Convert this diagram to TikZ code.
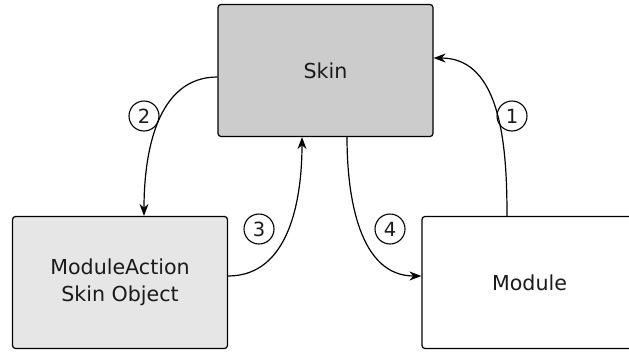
\documentclass[tikz,border=0pt]{standalone}
\usepackage{fontspec}
\setmainfont{DejaVu Sans}
\usetikzlibrary{arrows.meta}
\definecolor{skinfill}{HTML}{CCCCCC}
\definecolor{mafill}{HTML}{E6E6E6}
\definecolor{txt}{HTML}{1A1A1A}
\begin{document}
\begin{tikzpicture}[x=1pt,y=-1pt,
  box/.style={draw=black,line width=1.2pt,rounded corners=3pt,inner sep=0pt,
    minimum width=215pt,minimum height=132pt,align=center,text=txt,
    font=\fontsize{20.6}{27}\selectfont},
  conn/.style={line width=1.2pt,-{Stealth[length=12pt,width=9pt]}},
  num/.style={draw=black,line width=1.1pt,circle,inner sep=0pt,minimum size=30pt,
    text=txt,font=\fontsize{19.5}{21}\selectfont}]
\useasboundingbox (0,0) rectangle (629,351);
\node[box,fill=skinfill] (skin) at (325.5,70.5) {Skin};
\node[box,fill=mafill] (ma) at (120,282.5) {ModuleAction\\Skin Object};
\node[box,fill=white] (mod) at (529.5,282.5) {Module};
\draw[conn] ([xshift=-22.5pt]mod.north) to[out=90,in=0] ([yshift=12.5pt]skin.east);
\draw[conn] ([yshift=-6.5pt]skin.west) to[out=180,in=90] ([xshift=24pt]ma.north);
\draw[conn] ([yshift=6.5pt]ma.east) to[out=0,in=-90] ([xshift=-23.5pt]skin.south);
\draw[conn] ([xshift=21.5pt]skin.south) to[out=-90,in=180] ([yshift=6.5pt]mod.west);
\node[num] (n1) at (512,116) {1};
\node[num] (n2) at (144,116) {2};
\node[num] (n3) at (259,229) {3};
\node[num] (n4) at (390,229) {4};
\end{tikzpicture}
\end{document}
